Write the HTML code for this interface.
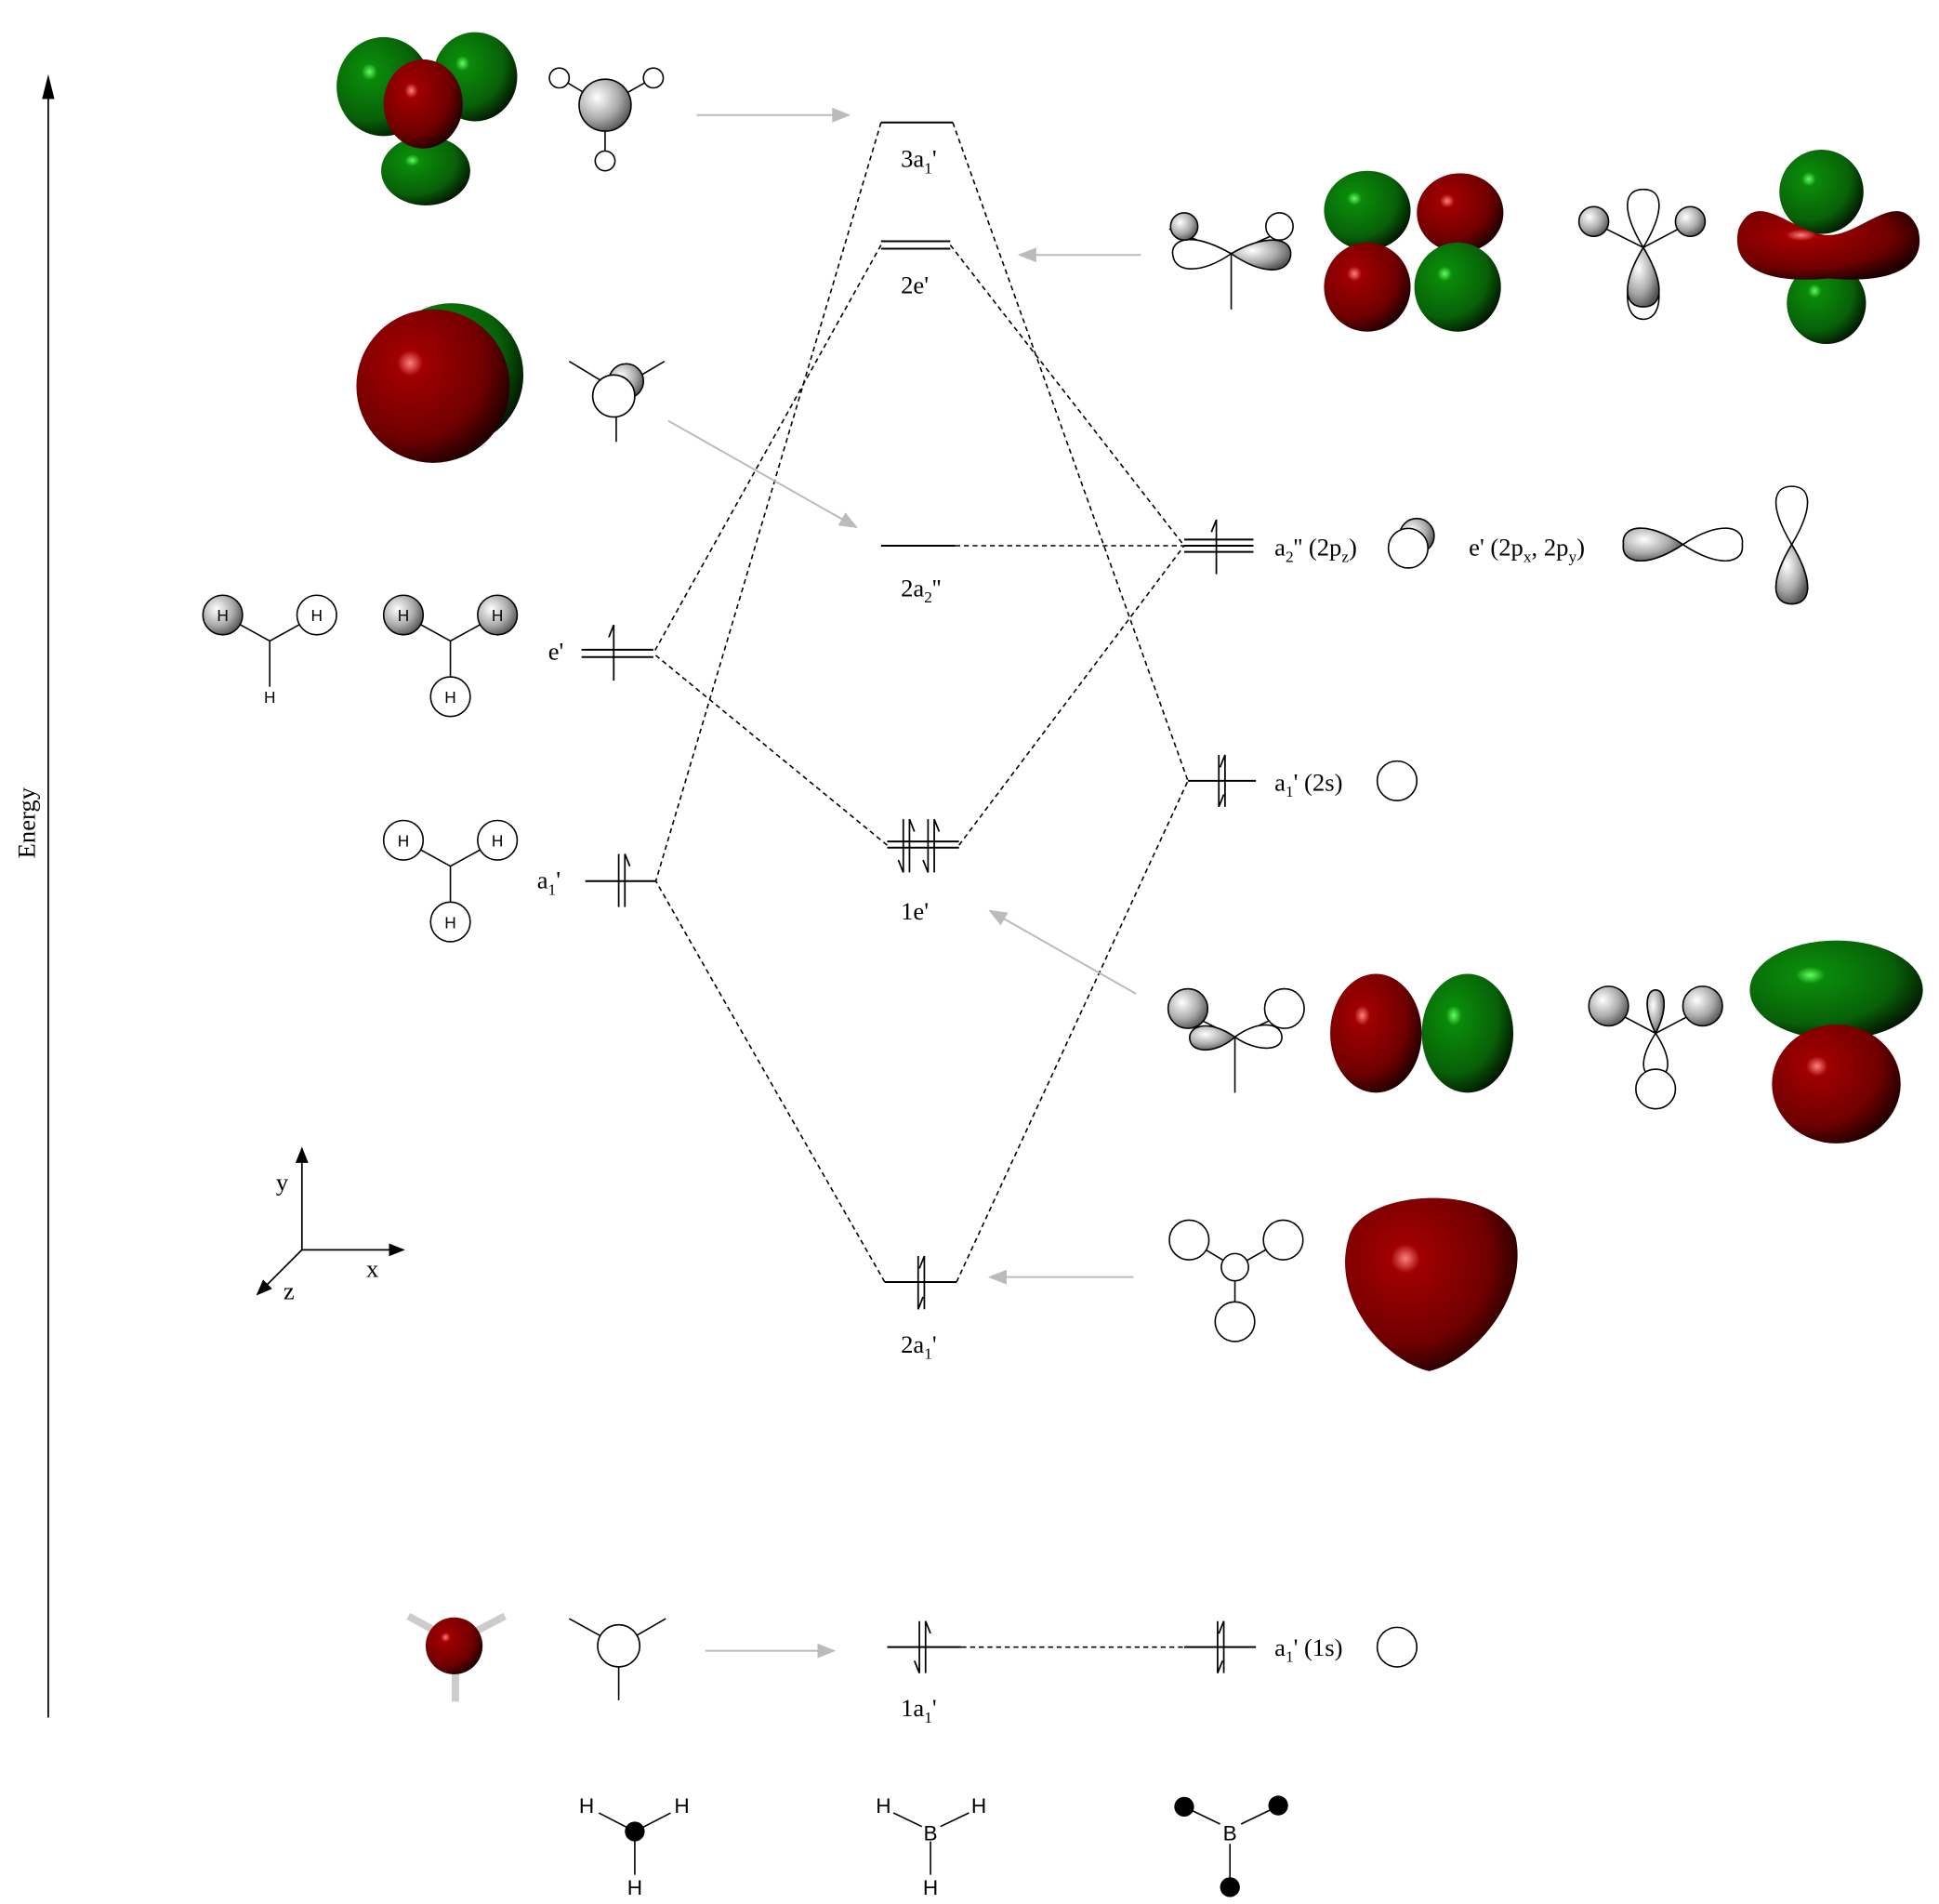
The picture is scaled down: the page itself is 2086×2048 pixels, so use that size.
<!DOCTYPE html>
<html><head><meta charset="utf-8"><style>
html,body{margin:0;padding:0;background:#fff;}
svg{display:block}
text{font-family:"Liberation Serif",serif;fill:#000}
.s{font-family:"Liberation Sans",sans-serif}
</style></head><body>
<svg width="2086" height="2048" viewBox="0 0 1567 1538.6" preserveAspectRatio="none" xmlns="http://www.w3.org/2000/svg">
<defs>
<radialGradient id="r" cx="0.35" cy="0.35" r="0.7"><stop offset="0" stop-color="#ff8080"/><stop offset="0.12" stop-color="#a00000"/><stop offset="0.7" stop-color="#700000"/><stop offset="1" stop-color="#200000"/></radialGradient>
<radialGradient id="g" cx="0.35" cy="0.35" r="0.7"><stop offset="0" stop-color="#60ff60"/><stop offset="0.12" stop-color="#0a8a0a"/><stop offset="0.7" stop-color="#086008"/><stop offset="1" stop-color="#021802"/></radialGradient>
<radialGradient id="w" cx="0.35" cy="0.35" r="0.7"><stop offset="0" stop-color="#fff"/><stop offset="0.6" stop-color="#aaa"/><stop offset="1" stop-color="#555"/></radialGradient>
<marker id="ga" markerWidth="10" markerHeight="8" refX="9" refY="4" orient="auto"><path d="M0,0 L10,4 L0,8 z" fill="#bbb"/></marker>
<marker id="ba" markerWidth="10" markerHeight="8" refX="9" refY="4" orient="auto"><path d="M0,0 L10,4 L0,8 z" fill="#000"/></marker>
</defs>
<line x1="39" y1="1388" x2="39" y2="66" stroke="#000" stroke-width="1.3"/>
<path d="M34,80 L39,60 L44,80 z" fill="#000"/>
<text x="28" y="665" font-size="20" transform="rotate(-90 28 665)" text-anchor="middle">Energy</text>

<g stroke="#000" stroke-width="1.5">
<line x1="712" y1="99" x2="770" y2="99"/>
<line x1="712" y1="195" x2="768" y2="195"/><line x1="712" y1="201" x2="768" y2="201"/>
<line x1="712" y1="441" x2="772" y2="441"/>
<line x1="717" y1="680" x2="775" y2="680"/><line x1="717" y1="685" x2="775" y2="685"/>
<line x1="715" y1="1036" x2="773" y2="1036"/>
<line x1="717" y1="1331" x2="777" y2="1331"/>
<line x1="470" y1="525" x2="528" y2="525"/><line x1="470" y1="531" x2="528" y2="531"/>
<line x1="473" y1="712" x2="530" y2="712"/>
<line x1="957" y1="436" x2="1013" y2="436"/><line x1="957" y1="441" x2="1013" y2="441"/><line x1="957" y1="446" x2="1013" y2="446"/>
<line x1="960" y1="631" x2="1015" y2="631"/>
<line x1="957" y1="1331" x2="1015" y2="1331"/>
</g>
<g stroke="#000" stroke-width="1.3" fill="none">
<path d="M496,550 V505 l-4,10"/>
<path d="M500,690 V733 M505,733 V690 l4,10"/>
<path d="M730,662 V705 l-4,-10 M735,705 V662 l4,10"/>
<path d="M750,662 V705 l-4,-10 M755,705 V662 l4,10"/>
<path d="M742,1015 V1058 l4,-10 M747,1058 V1015 l-4,10" />
<path d="M743,1310 V1352 l-4,-10 M748,1352 V1310 l4,10"/>
<path d="M983,464 V420 l-4,10"/>
<path d="M985,610 V652 l4,-10 M990,652 V610 l-4,10"/>
<path d="M984,1310 V1352 l4,-10 M989,1352 V1310 l-4,10"/>
</g>
<g stroke="#000" stroke-width="1.2" stroke-dasharray="4,3" fill="none">
<line x1="712" y1="99" x2="530" y2="712"/><line x1="770" y1="99" x2="960" y2="631"/>
<line x1="712" y1="198" x2="528" y2="528"/><line x1="768" y1="198" x2="957" y2="441"/>
<line x1="772" y1="441" x2="957" y2="441"/>
<line x1="717" y1="683" x2="528" y2="528"/><line x1="775" y1="683" x2="957" y2="441"/>
<line x1="715" y1="1036" x2="530" y2="712"/><line x1="773" y1="1036" x2="960" y2="631"/>
<line x1="777" y1="1331" x2="957" y2="1331"/>
</g>
<g stroke="#bbb" stroke-width="1.5" marker-end="url(#ga)">
<line x1="563" y1="93" x2="686" y2="93"/><line x1="922" y1="206" x2="824" y2="206"/>
<line x1="540" y1="340" x2="692" y2="426"/><line x1="918" y1="803" x2="800" y2="736"/>
<line x1="916" y1="1032" x2="800" y2="1032"/><line x1="570" y1="1334" x2="674" y2="1334"/>
</g>
<g font-size="20">
<text x="728" y="135">3a<tspan font-size="13" dy="5">1</tspan><tspan dy="-5">'</tspan></text>
<text x="728" y="237">2e'</text>
<text x="728" y="482">2a<tspan font-size="13" dy="5">2</tspan><tspan dy="-5">''</tspan></text>
<text x="728" y="743">1e'</text>
<text x="728" y="1093">2a<tspan font-size="13" dy="5">1</tspan><tspan dy="-5">'</tspan></text>
<text x="728" y="1387">1a<tspan font-size="13" dy="5">1</tspan><tspan dy="-5">'</tspan></text>
<text x="443" y="533">e'</text>
<text x="434" y="718">a<tspan font-size="13" dy="5">1</tspan><tspan dy="-5">'</tspan></text>
<text x="1030" y="449">a<tspan font-size="13" dy="5">2</tspan><tspan dy="-5">'' (2p</tspan><tspan font-size="13" dy="5">z</tspan><tspan dy="-5">)</tspan></text>
<text x="1187" y="449">e' (2p<tspan font-size="13" dy="5">x</tspan><tspan dy="-5">, 2p</tspan><tspan font-size="13" dy="5">y</tspan><tspan dy="-5">)</tspan></text>
<text x="1030" y="639">a<tspan font-size="13" dy="5">1</tspan><tspan dy="-5">' (2s)</tspan></text>
<text x="1030" y="1338">a<tspan font-size="13" dy="5">1</tspan><tspan dy="-5">' (1s)</tspan></text>
</g>
<g fill="none" stroke="#000" stroke-width="1.2">
<circle cx="1129" cy="631" r="16"/><circle cx="1129" cy="1331" r="16"/>
<circle cx="1145" cy="433" r="14" fill="url(#w)"/><circle cx="1138" cy="443" r="16" fill="#fff"/>
<path d="M1360,440 C1330,420 1310,425 1312,440 C1310,455 1330,460 1360,440 C1390,420 1410,425 1408,440 C1410,455 1390,460 1360,440z" fill="#fff"/>
<path d="M1360,440 C1330,420 1310,425 1312,440 C1310,455 1330,460 1360,440z" fill="url(#w)"/>
<path d="M1448,440 C1430,410 1432,393 1448,393 C1464,393 1466,410 1448,440 C1430,470 1432,488 1448,488 C1464,488 1466,470 1448,440z" fill="#fff"/>
<path d="M1448,440 C1430,470 1432,488 1448,488 C1464,488 1466,470 1448,440z" fill="url(#w)"/>
</g>

<g stroke="#000" stroke-width="1.2" fill="none">
<path d="M180,497 L218,518 L256,497 M218,518 V555"/>
<path d="M326,497 L364,518 L402,497 M364,518 V548"/>
<path d="M326,679 L364,700 L402,679 M364,700 V730"/>
<circle cx="180" cy="497" r="16" fill="url(#w)"/><circle cx="256" cy="497" r="16" fill="#fff"/>
<circle cx="326" cy="497" r="16" fill="url(#w)"/><circle cx="402" cy="497" r="16" fill="url(#w)"/><circle cx="364" cy="563" r="16" fill="#fff"/>
<circle cx="326" cy="679" r="16" fill="#fff"/><circle cx="402" cy="679" r="16" fill="#fff"/><circle cx="364" cy="745" r="16" fill="#fff"/>
</g>
<g class="s" font-size="13" text-anchor="middle">
<text x="180" y="502" class="s">H</text><text x="256" y="502" class="s">H</text><text x="218" y="568" class="s">H</text>
<text x="326" y="502" class="s">H</text><text x="402" y="502" class="s">H</text><text x="364" y="568" class="s">H</text>
<text x="326" y="684" class="s">H</text><text x="402" y="684" class="s">H</text><text x="364" y="750" class="s">H</text>
</g>

<g stroke="#000" stroke-width="1.2" fill="none">
<path d="M452,63 L489,85 L528,63 M489,85 V128"/>
<circle cx="452" cy="63" r="8" fill="#fff"/><circle cx="528" cy="63" r="8" fill="#fff"/><circle cx="489" cy="130" r="8" fill="#fff"/>
<circle cx="489" cy="85" r="21" fill="url(#w)"/>
<path d="M460,292 L498,315 L537,292 M498,315 V357"/>
<circle cx="506" cy="308" r="14" fill="url(#w)"/><circle cx="496" cy="320" r="17" fill="#fff"/>
<path d="M460,1308 L500,1330 L538,1308 M500,1330 V1374"/><circle cx="500" cy="1330" r="17" fill="#fff"/>
<path d="M945,185 L995,205 L1040,185 M995,205 V250"/>
<path d="M995,205 C960,185 945,195 948,207 C950,220 970,222 995,205z" fill="#fff"/>
<path d="M995,205 C1020,190 1045,190 1043,207 C1040,222 1020,222 995,205z" fill="url(#w)"/>
<circle cx="957" cy="183" r="11" fill="url(#w)"/><circle cx="1034" cy="183" r="11" fill="#fff"/>
<path d="M1288,180 L1328,200 L1366,180"/>
<path d="M1328,200 C1310,170 1312,153 1328,153 C1344,153 1346,170 1328,200 C1310,230 1312,258 1328,258 C1344,258 1346,230 1328,200z" fill="#fff"/>
<path d="M1328,200 C1310,230 1312,248 1328,248 C1344,248 1346,230 1328,200z" fill="url(#w)"/>
<circle cx="1288" cy="179" r="12" fill="url(#w)"/><circle cx="1366" cy="179" r="12" fill="url(#w)"/>
<path d="M958,818 L998,838 L1040,818 M998,838 V883"/>
<path d="M998,838 C975,822 958,830 962,842 C966,852 985,850 998,838z" fill="url(#w)"/>
<path d="M998,838 C1015,825 1035,825 1036,838 C1036,850 1015,850 998,838z" fill="#fff"/>
<circle cx="960" cy="815" r="16" fill="url(#w)"/><circle cx="1038" cy="815" r="16" fill="#fff"/>
<path d="M1300,815 L1338,835 L1376,815"/>
<path d="M1338,835 C1328,815 1330,800 1338,800 C1346,800 1348,815 1338,835 C1325,855 1325,870 1338,870 C1351,870 1351,855 1338,835z" fill="#fff"/>
<path d="M1338,835 C1328,815 1330,800 1338,800 C1346,800 1348,815 1338,835z" fill="url(#w)"/>
<circle cx="1338" cy="880" r="16" fill="#fff"/>
<circle cx="1300" cy="813" r="16" fill="url(#w)"/><circle cx="1376" cy="813" r="16" fill="url(#w)"/>
<path d="M961,1002 L998,1024 L1037,1002 M998,1024 V1068"/>
<circle cx="961" cy="1002" r="16" fill="#fff"/><circle cx="1037" cy="1002" r="16" fill="#fff"/><circle cx="998" cy="1068" r="16" fill="#fff"/><circle cx="998" cy="1024" r="11" fill="#fff"/>
</g>

<g>
<ellipse cx="310" cy="70" rx="38" ry="40" fill="url(#g)"/>
<ellipse cx="384" cy="62" rx="34" ry="36" fill="url(#g)"/>
<ellipse cx="344" cy="138" rx="36" ry="28" fill="url(#g)"/>
<ellipse cx="342" cy="84" rx="32" ry="36" fill="url(#r)"/>
<circle cx="365" cy="303" r="58" fill="url(#g)"/>
<circle cx="350" cy="312" r="62" fill="url(#r)"/>
<ellipse cx="1105" cy="170" rx="35" ry="32" fill="url(#g)"/>
<ellipse cx="1180" cy="172" rx="35" ry="32" fill="url(#r)"/>
<ellipse cx="1105" cy="232" rx="35" ry="36" fill="url(#r)"/>
<ellipse cx="1178" cy="232" rx="35" ry="36" fill="url(#g)"/>
<ellipse cx="1472" cy="155" rx="34" ry="34" fill="url(#g)"/>
<ellipse cx="1476" cy="245" rx="32" ry="33" fill="url(#g)"/>
<path d="M1405,185 C1420,150 1450,190 1478,190 C1505,190 1535,150 1550,185 C1558,215 1530,230 1478,225 C1425,230 1398,215 1405,185z" fill="url(#r)"/>
<ellipse cx="1112" cy="835" rx="37" ry="48" fill="url(#r)"/>
<ellipse cx="1186" cy="835" rx="37" ry="48" fill="url(#g)"/>
<ellipse cx="1484" cy="800" rx="70" ry="40" fill="url(#g)"/>
<ellipse cx="1484" cy="876" rx="52" ry="48" fill="url(#r)"/>
<path d="M1090,1000 C1100,960 1210,955 1225,1000 C1235,1050 1190,1100 1155,1108 C1120,1100 1075,1050 1090,1000z" fill="url(#r)"/>
<g stroke="#ccc" stroke-width="6"><line x1="352" y1="1318" x2="330" y2="1306"/><line x1="385" y1="1318" x2="408" y2="1306"/><line x1="368" y1="1350" x2="368" y2="1375"/></g>
<circle cx="367" cy="1330" r="23" fill="url(#r)"/>
</g>

<g stroke="#000" stroke-width="1.3" fill="none">
<line x1="244" y1="1010" x2="244" y2="928" marker-end="url(#ba)"/>
<line x1="244" y1="1010" x2="326" y2="1010" marker-end="url(#ba)"/>
<line x1="244" y1="1010" x2="208" y2="1046" marker-end="url(#ba)"/>
</g>
<g font-size="20"><text x="223" y="962">y</text><text x="296" y="1032">x</text><text x="229" y="1050">z</text></g>

<g stroke="#000" stroke-width="1.2" fill="none">
<path d="M484,1465 L513,1480 L542,1465 M513,1480 V1515"/>
<path d="M722,1465 L745,1476 M760,1476 L783,1465 M752,1488 V1515"/>
<path d="M957,1460 L986,1474 M1003,1474 L1032,1460 M994,1490 V1522"/>
</g>
<circle cx="513" cy="1480" r="8" fill="#000"/>
<circle cx="957" cy="1460" r="8" fill="#000"/><circle cx="1033" cy="1459" r="8" fill="#000"/><circle cx="994" cy="1525" r="8" fill="#000"/>
<g class="s" font-size="17" text-anchor="middle">
<text x="474" y="1465" class="s">H</text><text x="551" y="1465" class="s">H</text><text x="513" y="1531" class="s">H</text>
<text x="714" y="1465" class="s">H</text><text x="791" y="1465" class="s">H</text><text x="752" y="1487" class="s">B</text><text x="752" y="1531" class="s">H</text>
<text x="994" y="1487" class="s">B</text>
</g>
</svg>
</body></html>
